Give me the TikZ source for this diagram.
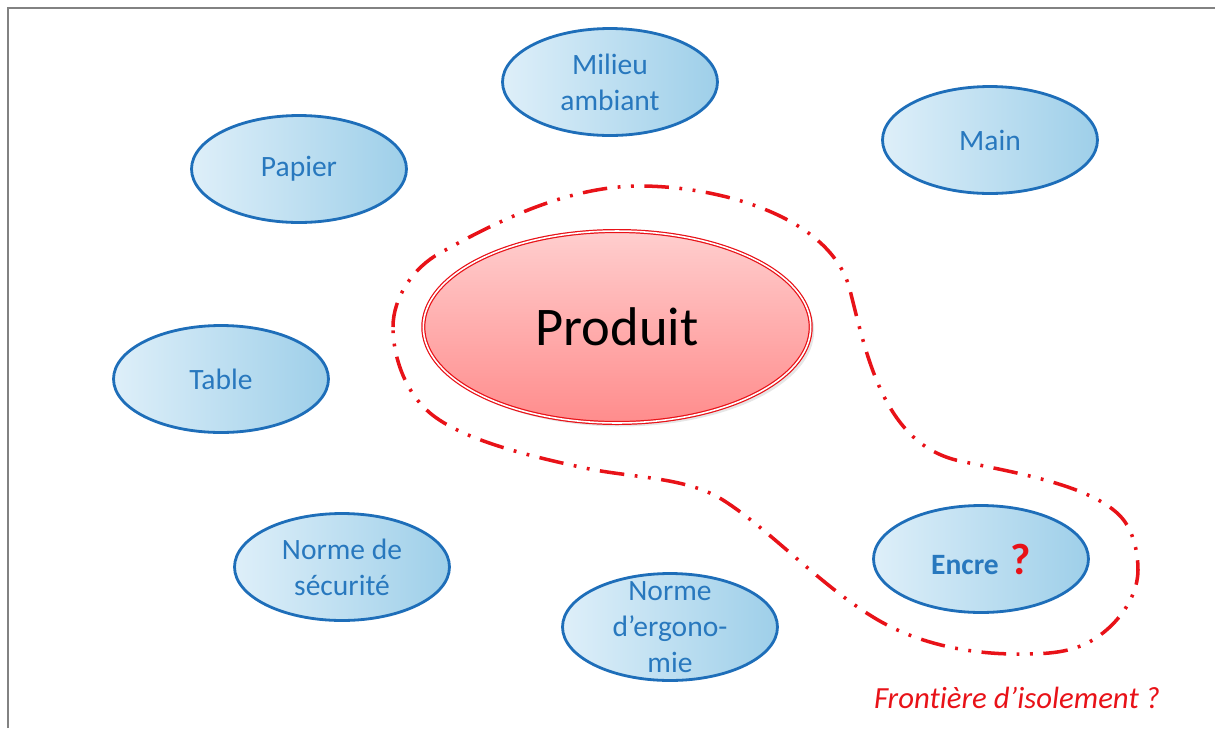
\documentclass[tikz,border=0pt]{standalone}
\usepackage{fontspec}
\setmainfont{Carlito}[Ligatures=NoCommon]
\usetikzlibrary{shapes.geometric,shadows}
\definecolor{bubbleline}{RGB}{30,110,185}
\definecolor{bubbletext}{RGB}{40,120,190}
\definecolor{bubbleleft}{RGB}{222,239,249}
\definecolor{bubbleright}{RGB}{158,207,233}
\definecolor{prodtop}{RGB}{255,206,206}
\definecolor{prodbottom}{RGB}{255,140,140}
\definecolor{isored}{RGB}{232,18,24}
\definecolor{framegray}{RGB}{130,130,130}
\begin{document}
\begin{tikzpicture}[x=0.02cm,y=-0.02cm,
				bubble/.style={ellipse,draw=bubbleline,line width=1.6pt,
					left color=bubbleleft,right color=bubbleright,
					minimum width=4.3cm,minimum height=2.14cm,inner sep=0pt,
					label={[bubblelabel]center:#1}},
				bubblelabel/.style={align=center,text=bubbletext,
					font=\fontsize{16.8}{20.4}\selectfont},
				product/.style={ellipse,draw=isored,double=white,double distance=0.9pt,
					line width=0.7pt,top color=prodtop,bottom color=prodbottom,
					minimum width=7.75cm,minimum height=3.84cm,
					drop shadow={opacity=0.2,shadow xshift=2pt,shadow yshift=-2pt},
					font=\fontsize{31}{36}\selectfont},
				frontier/.style={draw=isored,line width=2pt,
					dash pattern=on 14pt off 6pt on 1.6pt off 6pt on 1.6pt off 6pt}]
\useasboundingbox (0,0) rectangle (1215,728);
\draw[framegray,line width=1.3pt] (8,728) -- (8,8) -- (1215,8);
\draw[frontier] (393,327) .. controls (393,297) and (414,267) .. (440,253)
	.. controls (501,219) and (570,186) .. (640,186)
	.. controls (718,186) and (831,216) .. (850,290)
	.. controls (867,358) and (885,445) .. (960,461)
	.. controls (1016,473) and (1105,487) .. (1127,525)
	.. controls (1135,539) and (1138,555) .. (1138,570)
	.. controls (1138,601) and (1111,633) .. (1083,645)
	.. controls (1062,654) and (1039,654) .. (1017,654)
	.. controls (967,654) and (915,643) .. (873,617)
	.. controls (819,584) and (770,530) .. (723,500)
	.. controls (685,476) and (628,478) .. (580,467)
	.. controls (530,456) and (462,440) .. (430,413)
	.. controls (406,393) and (393,358) .. (393,327);
\node[product] (produit) at (617,327) {Produit};
\node[bubble={Milieu\\ambiant}] (milieu) at (610,82) {};
\node[bubble={Main}] (main) at (990,140) {};
\node[bubble={Papier}] (papier) at (299,169) {};
\node[bubble={Table}] (table) at (221,379) {};
\node[bubble={Norme de\\sécurité}] (securite) at (342,567) {};
\node[bubble={Norme\\d’ergono-\\mie}] (ergonomie) at (670,627) {};
\node[bubble={\textbf{Encre}\, {\color{isored}\bfseries\fontsize{25}{28}\selectfont ?}}] (encre) at (981,559) {};
\node[text=isored,font=\fontsize{17.5}{20}\selectfont\itshape] (frontiere) at (1017,698) {Frontière d’isolement ?};
\end{tikzpicture}
\end{document}
